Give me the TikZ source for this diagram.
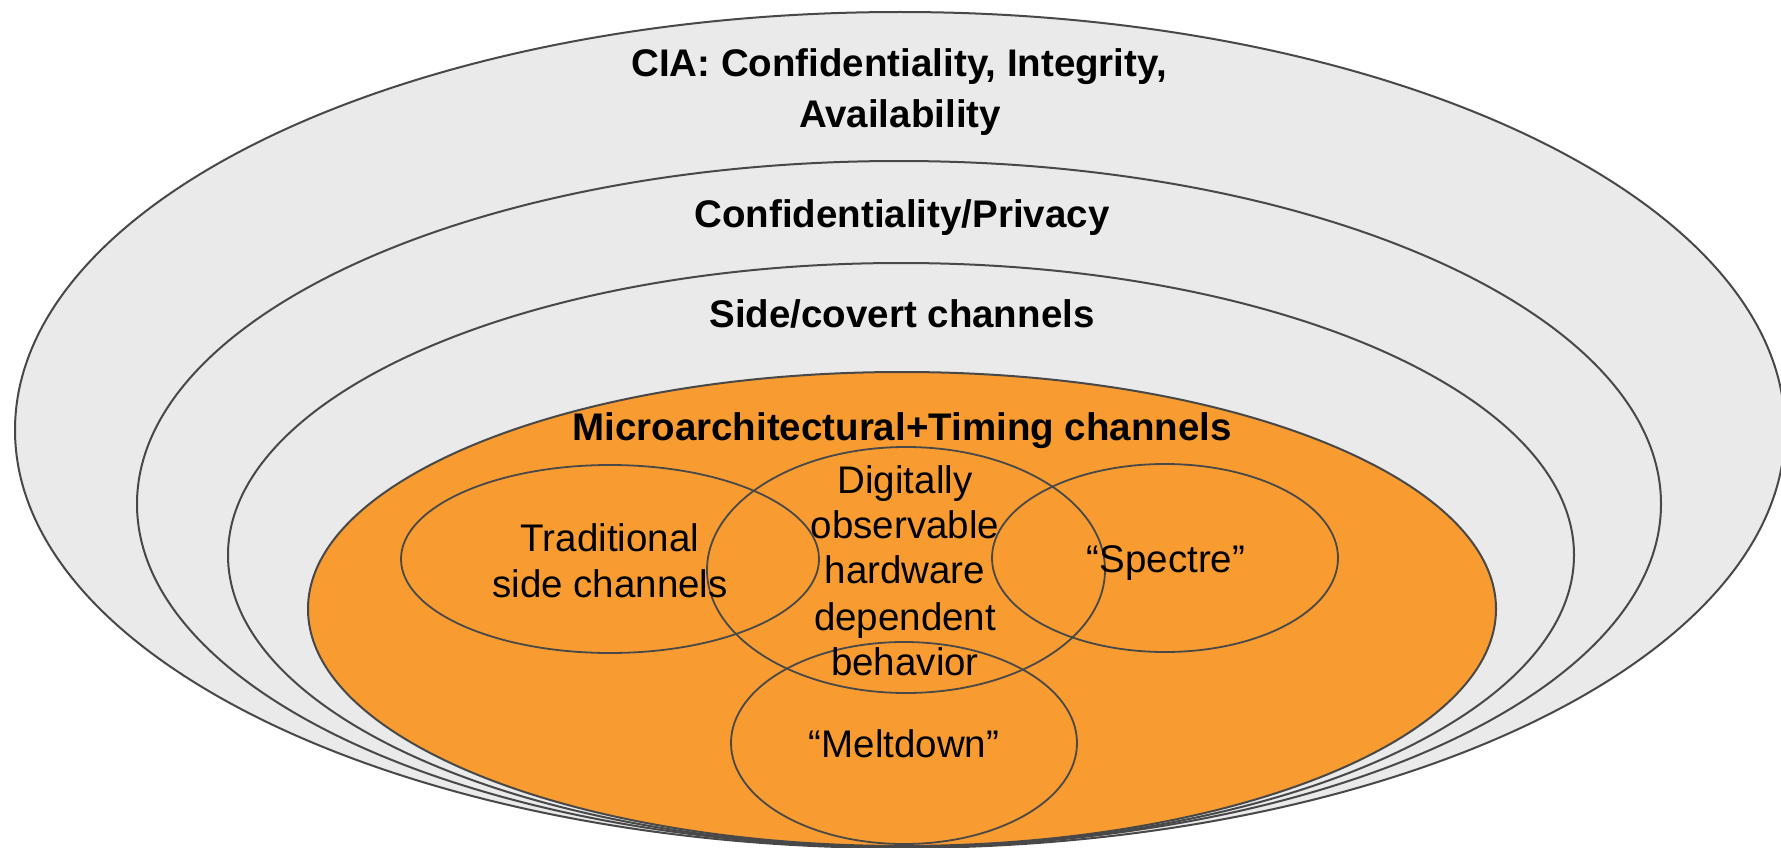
\documentclass[tikz,border=0pt]{standalone}
\usepackage{fontspec}
\setmainfont{Liberation Sans}
\definecolor{ringgray}{RGB}{234,234,234}
\definecolor{mtorange}{RGB}{248,156,50}
\definecolor{edge}{RGB}{72,72,72}
\begin{document}
\begin{tikzpicture}[x=1pt,y=-1pt,
  ring/.style={draw=edge,line width=2pt},
  venn/.style={draw=edge,line width=1.8pt},
  lbl/.style={inner sep=0pt,anchor=base,font=\fontsize{38.5}{46}\selectfont},
  bold/.style={lbl,font=\fontsize{38.5}{46}\selectfont\bfseries}]
\useasboundingbox (0,0) rectangle (1781,848);
\fill[white] (0,0) rectangle (1781,848);
\clip (0,0) rectangle (1781,848);

% nested security layers
\path[ring,fill=ringgray] (900,430) ellipse [x radius=885,y radius=418];
\path[ring,fill=ringgray] (899,504) ellipse [x radius=762,y radius=343];
\path[ring,fill=ringgray] (901,555) ellipse [x radius=673,y radius=292];
\path[ring,fill=mtorange] (902,609) ellipse [x radius=594,y radius=237];

% overlapping channel classes
\path[venn] (610,559) ellipse [x radius=209,y radius=94];
\path[venn] (906,570) ellipse [x radius=199,y radius=123];
\path[venn] (1165,558) ellipse [x radius=173,y radius=94];
\path[venn] (904,743) ellipse [x radius=173,y radius=101];

% layer titles
\node[bold] (cia1) at (899,77) {CIA: Confidentiality, Integrity,};
\node[bold] (cia2) at (900,128) {Availability};
\node[bold] (conf) at (902,227) {Confidentiality/Privacy};
\node[bold] (side) at (902,327) {Side/covert channels};
\node[bold] (micro) at (902,440) {Microarchitectural+Timing channels};

% channel labels
\node[lbl] (trad1) at (610,551) {Traditional};
\node[lbl] (trad2) at (610,597) {side channels};
\node[lbl] (dig1) at (905,493) {Digitally};
\node[lbl] (dig2) at (905,538) {observable};
\node[lbl] (dig3) at (905,583) {hardware};
\node[lbl] (dig4) at (905,630) {dependent};
\node[lbl] (dig5) at (905,675) {behavior};
\node[lbl] (spectre) at (1166,572) {“Spectre”};
\node[lbl] (meltdown) at (904,757) {“Meltdown”};
\end{tikzpicture}
\end{document}
